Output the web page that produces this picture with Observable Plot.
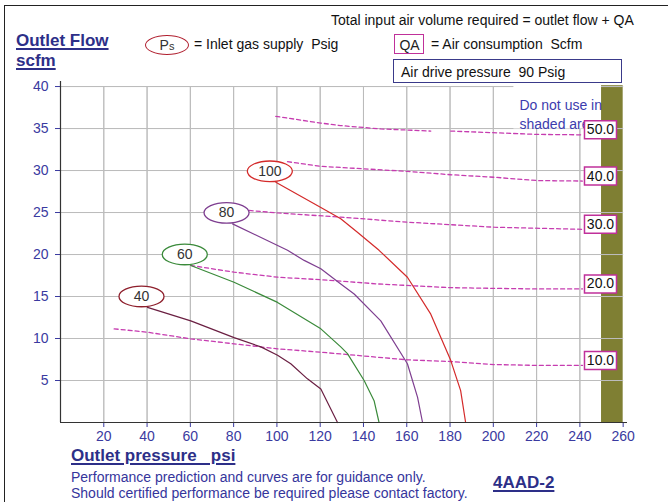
<!DOCTYPE html>
<html><head><meta charset="utf-8">
<script src="https://cdn.jsdelivr.net/npm/d3@7"></script>
<script src="https://cdn.jsdelivr.net/npm/@observablehq/plot@0.6"></script>
<style>
body{margin:0;background:#fff;font-family:"Liberation Sans",Arial,sans-serif;}
#wrap{position:relative;width:668px;height:502px;overflow:hidden;background:#fff}
.abs{position:absolute;white-space:nowrap;line-height:1}
.t14{font-size:14px;color:#111}
.nav{color:#35359c}
.bold{font-weight:bold;font-size:17px;color:#2d2f88;text-decoration:underline;text-decoration-thickness:1.5px;text-underline-offset:2px}
</style></head><body>
<div id="wrap">
  <div id="chart" class="abs" style="left:0;top:0"></div>
  <div class="abs" style="left:4px;top:5px;width:664px;height:0;border-top:1.5px solid #222"></div>
  <div class="abs" style="left:4px;top:5px;width:0;height:497px;border-left:1.5px solid #222"></div>

  <div class="abs t14" style="left:331px;top:12.6px">Total input air volume required = outlet flow + QA</div>
  <div class="abs bold" style="left:16px;top:31.5px">Outlet Flow</div>
  <div class="abs bold" style="left:16px;top:52.2px">scfm</div>

  <div class="abs" style="left:145px;top:35px;width:42px;height:18px;border:1.3px solid #b01e2e;border-radius:50%;"></div>
  <div class="abs t14" style="left:145px;top:38px;width:44px;text-align:center;color:#333">P<span style="font-size:11px">s</span></div>
  <div class="abs t14" style="left:194px;top:37px">= Inlet gas supply&nbsp; Psig</div>

  <div class="abs" style="left:394px;top:34px;width:28px;height:18px;border:1.3px solid #c0309a"></div>
  <div class="abs t14" style="left:394px;top:38px;width:31px;text-align:center;color:#222">QA</div>
  <div class="abs t14" style="left:431px;top:36.5px">= Air consumption&nbsp; Scfm</div>

  <div class="abs" style="left:393px;top:59px;width:227px;height:22px;border:1.3px solid #3a3a8a"></div>
  <div class="abs t14" style="left:401px;top:65px">Air drive pressure&nbsp; 90 Psig</div>

  <div class="abs bold" style="left:71px;top:446.5px">Outlet pressure&nbsp;&nbsp; psi</div>
  <div class="abs t14 nav" style="left:71px;top:470px">Performance prediction and curves are for guidance only.</div>
  <div class="abs t14 nav" style="left:71px;top:485.5px">Should certified performance be required please contact factory.</div>
  <div class="abs bold" style="left:493px;top:473.5px">4AAD-2</div>
</div>
<script>
// ---- axis ticks ----
const xTicks = [20, 40, 60, 80, 100, 120, 140, 160, 180, 200, 220, 240, 260];
const yTicks = [5, 10, 15, 20, 25, 30, 35, 40];
const xGrid = [20, 40, 60, 80, 100, 120, 140, 160, 180, 200, 220, 240];

// ---- shaded (do not use) region, outlet pressure psi ----
const shadedFrom = 250;
const shadedTo = 260;

// ---- Ps curves: inlet gas supply (psig); outlet pressure (psi) vs outlet flow (scfm) ----
const psLevels = [40, 60, 80, 100];
const ps40Pressure = [40.2, 60.2, 80.2, 92.6, 100.3, 106.4, 114.1, 120.3, 128.0];
const ps40Flow     = [13.7, 12.1, 10.1, 9.0, 8.0, 7.0, 5.2, 4.0, 0.0];
const ps60Pressure = [60.2, 80.2, 100.3, 120.3, 129.5, 132.6, 140.3, 144.9, 147.2];
const ps60Flow     = [18.7, 16.7, 14.3, 11.15, 9.0, 8.2, 5.0, 2.6, 0.0];
const ps80Pressure = [79.5, 104.9, 112.6, 120.3, 129.5, 135.7, 148.0, 160.3, 165.0, 167.3];
const ps80Flow     = [23.65, 20.5, 19.3, 18.3, 16.5, 15.3, 12.1, 7.0, 3.0, 0.0];
const ps100Pressure = [99.5, 120.3, 129.5, 137.2, 147.2, 160.3, 171.1, 180.3, 184.9, 187.2];
const ps100Flow     = [28.6, 25.6, 24.25, 22.65, 20.5, 17.3, 12.9, 7.4, 3.8, 0.0];

// ---- QA lines: air consumption (scfm) ----
const qaLevels = ["10.0", "20.0", "30.0", "40.0", "50.0"];
const qa10Pressure = [24.8, 40.2, 60.2, 80.2, 100.3, 120.3, 160.3, 180.3, 200.4, 220.4, 241.2];
const qa10Flow     = [11.15, 10.75, 9.96, 9.37, 8.77, 8.37, 7.46, 7.26, 6.9, 6.8, 6.8];
const qa20Pressure = [60.2, 80.2, 100.3, 120.3, 146.5, 180.3, 220.4, 241.2];
const qa20Flow     = [18.7, 17.9, 17.3, 17.0, 16.5, 16.05, 15.9, 15.9];
const qa30Pressure = [87.2, 100.3, 129.5, 160.3, 200.4, 241.2];
const qa30Flow     = [25.25, 24.95, 24.45, 23.85, 23.25, 23.0];
const qa40Pressure = [104.9, 120.3, 140.3, 160.3, 180.3, 200.4, 220.4, 241.2];
const qa40Flow     = [31.05, 30.5, 30.2, 29.9, 29.5, 29.2, 28.8, 28.75];
const qa50Pressure = [99.5, 120.3, 129.5, 148.0, 171.1, 175.0, 180.3, 220.4, 241.2];
const qa50Flow     = [36.45, 35.65, 35.35, 34.95, 34.7, NaN, 34.7, 34.3, 34.25];

// ---- styles ----
const psLineColor = {40: "#6a1f42", 60: "#3a8a3a", 80: "#7e3e90", 100: "#d42a2a"};
const psRingColor = {40: "#8e1f2c", 60: "#3a8a3a", 80: "#7e3e90", 100: "#d42a2a"};
const qaColor = "#c63cb0";
const gridColor = "rgb(188,188,188)";

const zip = (xs, ys, key) => xs.map((x, i) => ({x, y: ys[i], key}));
const psSeries = [
  zip(ps40Pressure, ps40Flow, 40),
  zip(ps60Pressure, ps60Flow, 60),
  zip(ps80Pressure, ps80Flow, 80),
  zip(ps100Pressure, ps100Flow, 100)
];
const qaSeries = [
  zip(qa10Pressure, qa10Flow, qaLevels[0]),
  zip(qa20Pressure, qa20Flow, qaLevels[1]),
  zip(qa30Pressure, qa30Flow, qaLevels[2]),
  zip(qa40Pressure, qa40Flow, qaLevels[3]),
  zip(qa50Pressure, qa50Flow, qaLevels[4])
];
const psStarts = psSeries.map(s => s[0]);
const qaEnds = qaSeries.map(s => s[s.length - 1]);

// grid & region tables built from the arrays above
const yTop = yTicks[yTicks.length - 1];
const vGrid = xGrid.map(x => ({x1: x, x2: x, y1: 0, y2: yTop}));
const hGrid = yTicks.map(y => ({x1: 0, x2: shadedTo, y1: y, y2: y}));
const shaded = [{x1: shadedFrom, x2: shadedTo, y1: 0, y2: 40.1}];
const noteBox = [{x1: 209.5, x2: shadedFrom, y1: 34.95, y2: 40.1}];

// custom symbols
const K = 0.5523;
const ellipseSymbol = {draw(ctx) {
  const rx = 22.5, ry = 10.3;
  ctx.moveTo(rx, 0);
  ctx.bezierCurveTo(rx, ry * K, rx * K, ry, 0, ry);
  ctx.bezierCurveTo(-rx * K, ry, -rx, ry * K, -rx, 0);
  ctx.bezierCurveTo(-rx, -ry * K, -rx * K, -ry, 0, -ry);
  ctx.bezierCurveTo(rx * K, -ry, rx, -ry * K, rx, 0);
  ctx.closePath();
}};
const boxSymbol = {draw(ctx) {
  const w = 16, h = 9;
  ctx.moveTo(-w, -h); ctx.lineTo(w, -h); ctx.lineTo(w, h); ctx.lineTo(-w, h); ctx.closePath();
}};

const gridOpts = {x1: "x1", x2: "x2", y1: "y1", y2: "y2", stroke: gridColor, strokeWidth: 1, strokeOpacity: 1};
const marks = [
  Plot.rect(shaded, {x1: "x1", x2: "x2", y1: "y1", y2: "y2", fill: "#7f7f33"}),
  Plot.link(vGrid, gridOpts),
  Plot.link(hGrid, gridOpts),
  Plot.ruleX(vGrid, {x: "x1", y1: "y1", y2: "y2", stroke: gridColor, strokeWidth: 1}),
  Plot.ruleY(hGrid, {y: "y1", x1: "x1", x2: "x2", stroke: gridColor, strokeWidth: 1}),
  ...qaSeries.map(s => Plot.line(s, {x: "x", y: "y", stroke: qaColor, strokeWidth: 1.3, strokeDasharray: "4,3"})),
  ...psSeries.map(s => Plot.line(s, {x: "x", y: "y", stroke: psLineColor[s[0].key], strokeWidth: 1.2})),
  Plot.rect(noteBox, {x1: "x1", x2: "x2", y1: "y1", y2: "y2", fill: "white"}),
  Plot.text(["Do not use in\nshaded area"], {frameAnchor: "top-right", textAnchor: "start", lineAnchor: "top",
    dx: -108, dy: 16, lineHeight: 1.3, fill: "#3c3cae", fontSize: 14}),
  Plot.ruleX([0], {y1: 0, y2: 40.6, stroke: "#333", strokeWidth: 1.2}),
  Plot.ruleY([0], {x1: 0, x2: 262, stroke: "#333", strokeWidth: 1.2}),
  ...psStarts.map(p => Plot.dot([p], {x: "x", y: "y", dx: -6, dy: -11, symbol: ellipseSymbol, fill: "white",
    stroke: psRingColor[p.key], strokeWidth: 1.3})),
  Plot.text(psStarts, {x: "x", y: "y", dx: -6, dy: -11, text: d => String(d.key), fill: "#333", fontSize: 14}),
  Plot.dot(qaEnds, {x: "x", y: "y", dx: 18, dy: -5, symbol: boxSymbol, fill: "white", stroke: "#c0309a", strokeWidth: 1.5}),
  Plot.text(qaEnds, {x: "x", y: "y", dx: 18, dy: -5, text: "key", fill: "#111", fontSize: 14})
];

const chart = Plot.plot({
  width: 668, height: 502,
  marginLeft: 60, marginRight: 41, marginTop: 81, marginBottom: 80,
  style: {background: "transparent", fontFamily: "'Liberation Sans', Arial, sans-serif", fontSize: "14px", color: "#3a3aa0", overflow: "visible"},
  x: {domain: [0, 262], ticks: xTicks, tickSize: 5, tickPadding: 4, tickFormat: d => String(d), label: null},
  y: {domain: [0, 40.6], ticks: yTicks, tickSize: 5, tickPadding: 7, tickFormat: d => String(d), label: null},
  marks
});
document.getElementById("chart").appendChild(chart);
</script>
</body></html>
